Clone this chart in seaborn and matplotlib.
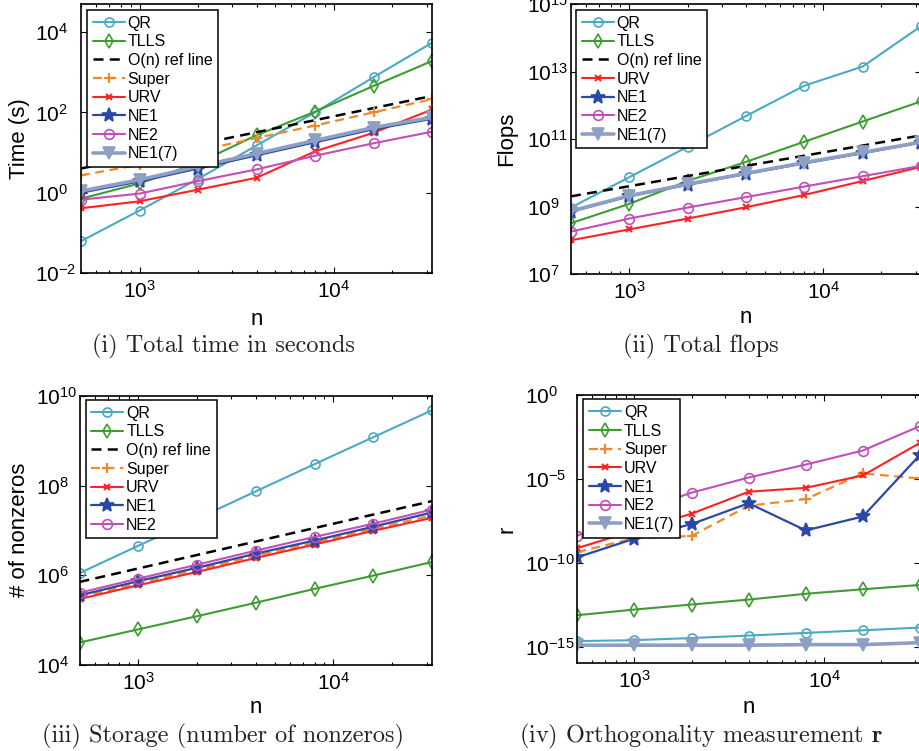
import numpy as np
import pandas as pd
import matplotlib
matplotlib.use("Agg")
import matplotlib.pyplot as plt
import seaborn as sns
from matplotlib.ticker import FixedLocator, FuncFormatter, LogLocator, NullFormatter

# ---------------- data ----------------
n = [500, 1000, 2000, 4000, 8000, 16000, 32000]

# (i) total time in seconds
qr_t = [0.062, 0.36, 2.2, 15, 100, 750, 5400]
tlls_t = [0.71, 1.7, 5.5, 27, 104, 455, 1900]
ref_t = [4, 8, 16, 32, 64, 128, 256]
super_t = [2.7, 5.0, 11, 23, 47, 100, 214]
urv_t = [0.41, 0.61, 1.19, 2.35, 10.7, 31, 118]
ne1_t = [1.0, 1.9, 4.0, 8.5, 18, 38, 69]
ne2_t = [0.67, 0.95, 1.94, 3.8, 8.3, 17, 33]
ne17_t = [1.1, 2.1, 4.5, 9.4, 20, 42, 75]

# (ii) total flops
qr_f = [9.3e8, 7.4e9, 5.9e10, 4.8e11, 3.8e12, 1.4e13, 2.2e14]
tlls_f = [3.2e8, 1.2e9, 5.7e9, 2.1e10, 8.3e10, 3.3e11, 1.3e12]
ref_f = [2e9, 4e9, 8e9, 1.6e10, 3.2e10, 6.4e10, 1.28e11]
urv_f = [1.0e8, 2.1e8, 4.4e8, 9.5e8, 2.2e9, 5.7e9, 1.5e10]
ne1_f = [7e8, 2e9, 4.4e9, 9.2e9, 1.9e10, 3.8e10, 7.8e10]
ne2_f = [1.8e8, 4.4e8, 9.3e8, 1.9e9, 3.9e9, 7.9e9, 1.6e10]
ne17_f = [7.3e8, 2.1e9, 4.6e9, 9.6e9, 2.0e10, 4.0e10, 8.1e10]

# (iii) storage (number of nonzeros)
qr_s = [1.1e6, 4.5e6, 1.8e7, 7.4e7, 3.0e8, 1.2e9, 4.8e9]
tlls_s = [3.1e4, 6.1e4, 1.2e5, 2.4e5, 4.9e5, 9.7e5, 1.95e6]
ref_s = [7e5, 1.4e6, 2.8e6, 5.6e6, 1.12e7, 2.24e7, 4.48e7]
super_s = [3.2e5, 6.5e5, 1.3e6, 2.7e6, 5.3e6, 1.07e7, 2.15e7]
urv_s = [2.9e5, 5.9e5, 1.17e6, 2.4e6, 4.8e6, 9.7e6, 1.9e7]
ne1_s = [3.5e5, 7.3e5, 1.45e6, 3.0e6, 5.9e6, 1.2e7, 2.5e7]
ne2_s = [4.0e5, 8.3e5, 1.7e6, 3.5e6, 7.1e6, 1.4e7, 2.9e7]

# (iv) orthogonality measurement r
qr_r = [2.1e-15, 2.4e-15, 3.2e-15, 4.5e-15, 6.5e-15, 9.3e-15, 1.35e-14]
tlls_r = [7.4e-14, 1.6e-13, 3.2e-13, 6.3e-13, 1.4e-12, 2.6e-12, 4.7e-12]
super_r = [4.3e-10, 2.9e-9, 3.9e-9, 2.5e-7, 6.2e-7, 2.1e-5, 1.05e-5]
urv_r = [7.4e-10, 8.3e-9, 8.3e-8, 1.7e-6, 2.9e-6, 1.6e-5, 1.4e-3]
ne1_r = [2.1e-10, 2.7e-9, 2e-8, 3.5e-7, 8.4e-9, 5.7e-8, 2.7e-4]
ne2_r = [4.1e-9, 1e-7, 1.5e-6, 1.2e-5, 7.1e-5, 4.9e-4, 1.4e-2]
ne17_r = [1.2e-15, 1.2e-15, 1.2e-15, 1.2e-15, 1.3e-15, 1.3e-15, 1.7e-15]

captions = ["(i) Total time in seconds", "(ii) Total flops",
            "(iii) Storage (number of nonzeros)",
            r"(iv) Orthogonality measurement $\mathbf{r}$"]
ylabels = ["Time (s)", "Flops", "# of nonzeros", "r"]

# ---------------- style ----------------
sns.set_theme(style="white")
plt.rcParams["font.family"] = ["Liberation Sans", "DejaVu Sans"]
plt.rcParams["mathtext.fontset"] = "cm"

STY = {
    "QR": dict(color="#4aa9c3", marker="o", markerfacecolor="none", markersize=6.5, linewidth=1.5),
    "TLLS": dict(color="#3e9c32", marker="d", markerfacecolor="none", markersize=7.5, linewidth=1.5),
    "O(n) ref line": dict(color="black", linestyle=(0, (4, 2.5)), linewidth=1.8),
    "Super": dict(color="#ef8a2c", linestyle=(0, (4, 2.5)), marker="+", markersize=7,
                  markeredgewidth=1.6, linewidth=1.6),
    "URV": dict(color="#ff2222", marker="x", markersize=4, markeredgewidth=1.5, linewidth=1.5),
    "NE1": dict(color="#2b48a6", marker="*", markersize=10, linewidth=1.6),
    "NE2": dict(color="#c24fb6", marker="o", markerfacecolor="none", markersize=7, linewidth=1.5),
    "NE1(7)": dict(color="#8e9fc5", marker="v", markersize=8, linewidth=2.6),
}

W, H = 919, 751
fig = plt.figure(figsize=(W / 100, H / 100), dpi=100)


def px_axes(l, t, r, b):
    return fig.add_axes([l / W, 1 - b / H, (r - l) / W, (b - t) / H])


panels = [
    dict(box=(81, 4, 432, 273), ylim=(1e-2, 5e4), yt=[-2, 0, 2, 4],
         series=[("QR", qr_t), ("TLLS", tlls_t), ("O(n) ref line", ref_t), ("Super", super_t),
                 ("URV", urv_t), ("NE1", ne1_t), ("NE2", ne2_t), ("NE1(7)", ne17_t)],
         ypad=33, leg=(6, 6), ylab_x=30, xlab_y=309, cap=(223, 352)),
    dict(box=(571, 4, 921, 274), ylim=(1e7, 1e15), yt=[7, 9, 11, 13, 15],
         series=[("QR", qr_f), ("TLLS", tlls_f), ("O(n) ref line", ref_f),
                 ("URV", urv_f), ("NE1", ne1_f), ("NE2", ne2_f), ("NE1(7)", ne17_f)],
         ypad=32, leg=(5, 6), ylab_x=517, xlab_y=307, cap=(701, 352)),
    dict(box=(79.5, 396, 432, 664.5), ylim=(1e4, 1e10), yt=[4, 6, 8, 10],
         series=[("QR", qr_s), ("TLLS", tlls_s), ("O(n) ref line", ref_s), ("Super", super_s),
                 ("URV", urv_s), ("NE1", ne1_s), ("NE2", ne2_s)],
         ypad=31, leg=(6, 4), ylab_x=30, xlab_y=697, cap=(223, 742)),
    dict(box=(577.3, 395, 920, 663.3), ylim=(1e-16, 1e0), yt=[-15, -10, -5, 0],
         series=[("QR", qr_r), ("TLLS", tlls_r), ("Super", super_r), ("URV", urv_r),
                 ("NE1", ne1_r), ("NE2", ne2_r), ("NE1(7)", ne17_r)],
         ypad=37.5, leg=(6, 4.3), ylab_x=517, xlab_y=697, cap=(701.5, 742)),
]

fmt = FuncFormatter(lambda v, p: r"$\mathregular{10^{%d}}$" % int(round(np.log10(v))))

for i, P in enumerate(panels):
    l, t, r, b = P["box"]
    ax = px_axes(l, t, r, b)
    for name, vals in P["series"]:
        kw = dict(STY[name])
        kw.setdefault("markeredgecolor", kw["color"])
        kw.setdefault("markeredgewidth", 1.2)
        df = pd.DataFrame({"n": n, "v": vals})
        sns.lineplot(data=df, x="n", y="v", ax=ax, label=name, errorbar=None,
                     sort=False, **kw)
    ax.set_xscale("log")
    ax.set_yscale("log")
    ax.set_xlim(500, 32000)
    ax.set_ylim(*P["ylim"])
    ax.yaxis.set_major_locator(FixedLocator([10.0 ** e for e in P["yt"]]))
    ax.yaxis.set_minor_locator(FixedLocator([]))
    ax.yaxis.set_major_formatter(fmt)
    ax.xaxis.set_major_locator(FixedLocator([1e3, 1e4]))
    ax.xaxis.set_minor_locator(LogLocator(base=10, subs=np.arange(2, 10), numticks=20))
    ax.xaxis.set_major_formatter(fmt)
    ax.xaxis.set_minor_formatter(NullFormatter())
    ax.tick_params(which="both", direction="in", top=True, right=True,
                   bottom=True, left=True, color="black", width=0.8)
    ax.tick_params(which="major", length=4.5, labelsize=15, labelcolor="black")
    ax.tick_params(which="minor", length=2.5)
    ax.tick_params(axis="x", which="major", pad=5)
    ax.tick_params(axis="y", which="major", pad=P["ypad"])
    for lab in ax.get_yticklabels():
        lab.set_horizontalalignment("left")
        lab.set_verticalalignment("center_baseline")
    for s in ax.spines.values():
        s.set_color("black")
        s.set_linewidth(1.2)
    ax.grid(False)
    ax.set_facecolor("white")

    ax.set_xlabel("n", fontsize=16, color="black")
    ax.set_ylabel(ylabels[i], fontsize=16, color="black")
    aw, ah = r - l, b - t
    ax.xaxis.set_label_coords(0.5, -(P["xlab_y"] - b) / ah)
    ax.yaxis.set_label_coords((P["ylab_x"] - l) / aw, 0.5)

    dx, dy = P["leg"]
    leg = ax.legend(loc="upper left", bbox_to_anchor=(dx / aw, 1 - dy / ah),
                    borderaxespad=0, fontsize=11.5, frameon=True, fancybox=False,
                    framealpha=1, edgecolor="black", handlelength=2.0,
                    handletextpad=0.2, labelspacing=0.23, borderpad=0.35,
                    numpoints=1)
    leg.get_frame().set_linewidth(1.1)
    for txt in leg.get_texts():
        txt.set_color("black")

    cx, cy = P["cap"]
    fig.text(cx / W, 1 - cy / H, captions[i], fontsize=17.5, family="cmr10",
             ha="center", va="baseline", color="#222222")

fig.savefig("out.png", dpi=100, facecolor="white")
